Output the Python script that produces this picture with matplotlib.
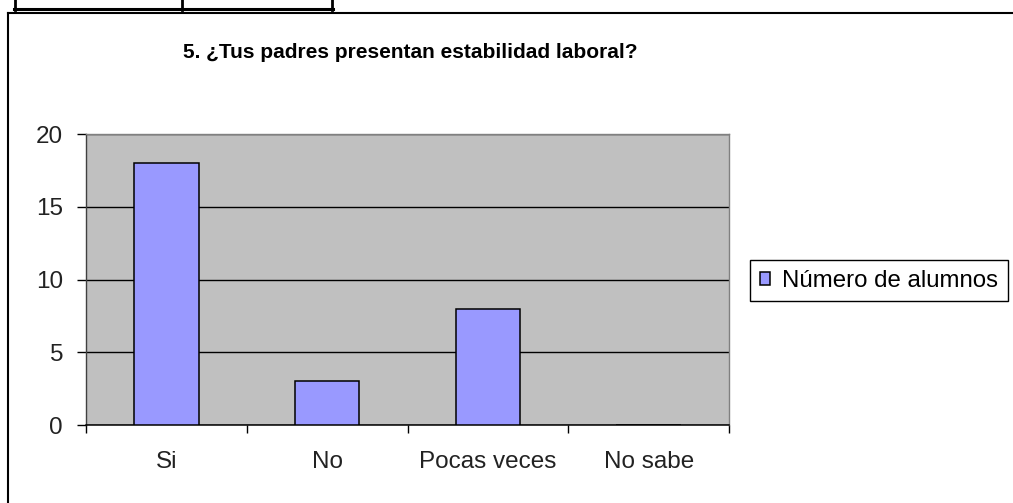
import matplotlib.pyplot as plt
from matplotlib.lines import Line2D

categorias = ["Si", "No", "Pocas veces", "No sabe"]
alumnos = [18, 3, 8, 0]
serie = "Número de alumnos"
titulo = "5. ¿Tus padres presentan estabilidad laboral?"

plt.rcParams["font.family"] = ["Liberation Sans", "DejaVu Sans"]

W, H = 1013, 503
fig = plt.figure(figsize=(W / 100, H / 100), dpi=100)


def fx(px):
    return px / W


def fy(py):
    return 1 - py / H


# restos de la tabla superior y marco del gráfico
for xx in (15, 182, 332):
    fig.add_artist(Line2D([fx(xx), fx(xx)], [fy(0), fy(10)], color="black", lw=2))
fig.add_artist(Line2D([fx(14), fx(333)], [fy(9), fy(9)], color="black", lw=2.2))
fig.add_artist(Line2D([fx(8), fx(8)], [fy(13), fy(H + 5)], color="black", lw=1.5))
fig.add_artist(Line2D([fx(8), fx(W + 5)], [fy(13), fy(13)], color="black", lw=1.5))

ax = fig.add_axes([fx(86), fy(425), fx(729) - fx(86), fy(134) - fy(425)])
ax.set_facecolor("#C0C0C0")
x = range(len(categorias))
ax.bar(x, alumnos, width=0.4, color="#9999FF", edgecolor="black", linewidth=1.1,
       zorder=3, label=serie)
ax.set_xlim(-0.5, len(categorias) - 0.5)
ax.set_ylim(0, 20)
ax.set_yticks([0, 5, 10, 15, 20])
ax.yaxis.grid(True, color="black", lw=1.0, zorder=1)
ax.set_axisbelow(True)

ax.set_xticks([i - 0.5 for i in range(len(categorias) + 1)])
ax.set_xticklabels([])
ax.set_xticks(list(x), minor=True)
ax.set_xticklabels(categorias, minor=True)
ax.tick_params(axis="x", which="minor", length=0, pad=18.5, labelsize=17.5, colors="#222222")
ax.tick_params(axis="x", which="major", length=5.8, width=1, direction="out")
ax.tick_params(axis="y", length=6.5, width=1, direction="out", labelsize=17.5, pad=10,
               labelcolor="#222222")

for side in ("top", "right"):
    ax.spines[side].set_color("#808080")
    ax.spines[side].set_linewidth(1)
ax.spines["left"].set_color("#404040")
ax.spines["left"].set_linewidth(1)
ax.spines["bottom"].set_color("black")
ax.spines["bottom"].set_linewidth(1.1)

fig.text(fx(410), fy(52), titulo, ha="center", va="center", fontsize=15,
         fontweight="bold")

leg = fig.legend(loc="upper left", bbox_to_anchor=(fx(750), fy(260)),
                 fontsize=17.3, fancybox=False, edgecolor="black", framealpha=1,
                 handlelength=0.45, handleheight=0.45, handletextpad=0.5,
                 borderpad=0.4, borderaxespad=0)
leg.get_frame().set_linewidth(1)

fig.savefig("out.png", dpi=100)
